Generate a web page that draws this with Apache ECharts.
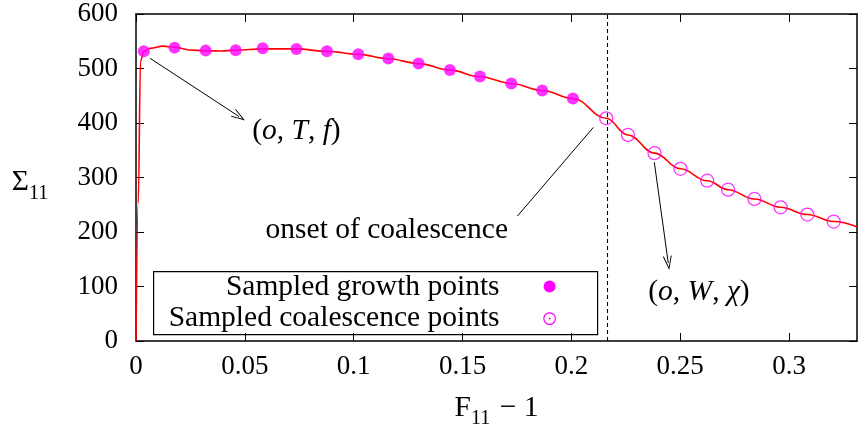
<!DOCTYPE html>
<html>
<head>
<meta charset="utf-8">
<script src="https://cdn.jsdelivr.net/npm/echarts@6/dist/echarts.min.js"></script>
<style>
  html, body { margin: 0; padding: 0; background: #ffffff; }
  #chart { width: 858px; height: 434px; }
</style>
</head>
<body>
<div id="chart"></div>
<script>
// Stress response Σ11 against stretch F11 − 1
const growthX = [0.0036, 0.0177, 0.0320, 0.0458, 0.0582, 0.0737, 0.0877, 0.1021, 0.1159, 0.1298, 0.1442, 0.1580, 0.1724, 0.1866, 0.2007];
const growthY = [531.5, 538.3, 532.8, 533.3, 537.0, 535.7, 531.5, 526.0, 518.2, 509.0, 497.3, 485.3, 472.5, 459.7, 445.1];

const coalX = [0.2160, 0.2260, 0.2382, 0.2501, 0.2624, 0.2720, 0.2841, 0.2961, 0.3084, 0.3205];
const coalY = [408.6, 378.1, 344.7, 316.0, 294.1, 277.6, 260.6, 245.3, 232.0, 219.2];

const curveX = [0, 0.0010, 0.0021, 0.0036, 0.0065, 0.0124, 0.0177, 0.0246, 0.0320, 0.0390, 0.0458, 0.0582, 0.0737, 0.0877, 0.1021, 0.1159, 0.1298, 0.1442, 0.1580, 0.1724, 0.1866, 0.2007, 0.2160, 0.2260, 0.2382, 0.2501, 0.2624, 0.2720, 0.2841, 0.2961, 0.3084, 0.3205, 0.3312];
const curveY = [0, 252, 515, 531, 537, 541, 539, 534, 532.5, 532, 533.5, 536, 536, 531.5, 526, 518, 509, 497, 485, 472.5, 459.7, 445, 408.6, 378, 344.7, 316, 294, 277.6, 260.6, 245.3, 232, 219.2, 209.5];

const xTicks = [0, 0.05, 0.1, 0.15, 0.2, 0.25, 0.3];
const yTicks = [0, 100, 200, 300, 400, 500, 600];
const xMax = 0.3312;
const onsetX = 0.2163;

const seriesNames = ['Sampled growth points', 'Sampled coalescence points'];

const FONT = 'Liberation Serif';
const MAGENTA = '#ff00ff';
const TEXT_SIZE = 29.5;

function pairs(xs, ys) { return xs.map((x, i) => [x, ys[i]]); }

// open "V" arrow head, tip pointing up
const headPath = 'path://M0,14 L4.5,0 L9,14 L8,14 L4.5,3 L1,14 Z';

const mathRich = {
  n: { fontFamily: FONT, fontSize: TEXT_SIZE, color: '#000' },
  i: { fontFamily: FONT, fontSize: TEXT_SIZE, fontStyle: 'italic', color: '#000' }
};

const chart = echarts.init(document.getElementById('chart'), null, { renderer: 'canvas' });

const axisLineStyle = { color: '#000', width: 1.5 };
const tickStyle = { show: true, inside: true, length: 8, lineStyle: { color: '#000', width: 1 } };

chart.setOption({
  animation: false,
  backgroundColor: '#ffffff',
  grid: { left: 136, right: 1, top: 14, bottom: 92, containLabel: false },
  xAxis: [
    {
      type: 'value', min: 0, max: xMax, position: 'bottom',
      axisLine: { show: true, onZero: false, lineStyle: axisLineStyle },
      axisTick: Object.assign({ customValues: xTicks }, tickStyle),
      axisLabel: {
        customValues: xTicks, margin: 12,
        fontFamily: FONT, fontSize: 27, color: '#000',
        formatter: v => String(+v.toFixed(2))
      },
      splitLine: { show: false },
      name: '{a|F}{s|11}{a| − 1}',
      nameLocation: 'middle', nameGap: 70,
      nameTextStyle: {
        align: 'center', verticalAlign: 'middle',
        rich: {
          a: { fontFamily: FONT, fontSize: TEXT_SIZE, color: '#000', verticalAlign: 'bottom', padding: [0, 0, 6, 0] },
          s: { fontFamily: FONT, fontSize: 20, color: '#000', verticalAlign: 'bottom', padding: [0, 2, 0, 0] }
        }
      }
    },
    {
      type: 'value', min: 0, max: xMax, position: 'top',
      axisLine: { show: true, onZero: false, lineStyle: axisLineStyle },
      axisTick: Object.assign({ customValues: xTicks }, tickStyle),
      axisLabel: { show: false },
      splitLine: { show: false }
    }
  ],
  yAxis: [
    {
      type: 'value', min: 0, max: 600, interval: 100, position: 'left',
      axisLine: { show: true, onZero: false, lineStyle: axisLineStyle },
      axisTick: Object.assign({ customValues: yTicks }, tickStyle),
      axisLabel: { customValues: yTicks, margin: 18, fontFamily: FONT, fontSize: 27, color: '#000' },
      splitLine: { show: false },
      name: '{a|Σ}{s|11}',
      nameLocation: 'middle', nameRotate: 0, nameGap: 106,
      nameTextStyle: {
        align: 'center', verticalAlign: 'middle', padding: [16, 0, 0, 0],
        rich: {
          a: { fontFamily: FONT, fontSize: TEXT_SIZE, color: '#000', verticalAlign: 'bottom', padding: [0, 0, 6, 0] },
          s: { fontFamily: FONT, fontSize: 20, color: '#000', verticalAlign: 'bottom' }
        }
      }
    },
    {
      type: 'value', min: 0, max: 600, interval: 100, position: 'right',
      axisLine: { show: true, onZero: false, lineStyle: axisLineStyle },
      axisTick: Object.assign({ customValues: yTicks }, tickStyle),
      axisLabel: { show: false },
      splitLine: { show: false }
    }
  ],
  series: [
    {
      name: 'Σ11 response',
      type: 'line',
      data: pairs(curveX, curveY),
      showSymbol: false,
      smooth: 0.4,
      smoothMonotone: 'x',
      lineStyle: { color: '#ff0000', width: 1.6 },
      z: 2,
      markLine: {
        silent: true,
        symbol: ['none', 'none'],
        label: { show: false },
        lineStyle: { color: '#000', width: 1, type: 'solid' },
        data: [
          [{ coord: [onsetX, 0], lineStyle: { color: '#000', width: 1.1, type: [4, 3] } }, { coord: [onsetX, 600] }],
          [{ coord: [0.0064, 518.9] }, { coord: [0.0474, 411.7], symbol: headPath, symbolSize: [9, 14] }],
          [{ coord: [0.1752, 229.2] }, { coord: [0.2101, 392.0] }],
          [{ coord: [0.2381, 327.9] }, { coord: [0.2445, 143.0], symbol: headPath, symbolSize: [9, 14] }]
        ]
      },
      markPoint: {
        silent: true,
        symbol: 'circle',
        symbolSize: 1,
        itemStyle: { color: 'rgba(0,0,0,0)' },
        label: { show: true, position: 'inside', color: '#000', rich: mathRich },
        data: [
          { coord: [0.0737, 384], label: { formatter: '{n|(}{i|o}{n|, }{i|T}{n|, }{i|f}{n|)}' } },
          { coord: [0.1152, 203], label: { formatter: '{n|onset of coalescence}' } },
          { coord: [0.2586, 89.6], label: { formatter: '{n|(}{i|o}{n|, }{i|W}{n|, }{i|χ}{n|)}' } }
        ]
      }
    },
    {
      name: seriesNames[0],
      type: 'scatter',
      data: pairs(growthX, growthY),
      symbol: 'circle',
      symbolSize: 12,
      itemStyle: { color: MAGENTA },
      z: 3
    },
    {
      name: seriesNames[1],
      type: 'scatter',
      data: pairs(coalX, coalY),
      symbol: 'circle',
      symbolSize: 13,
      itemStyle: { color: 'rgba(0,0,0,0)', borderColor: MAGENTA, borderWidth: 1.3 },
      z: 3
    }
  ],
  graphic: [
    {
      type: 'group', left: 153, top: 271, z: 10,
      children: [
        { type: 'rect', shape: { x: 0, y: 0, width: 444, height: 63 },
          style: { fill: '#fff', stroke: '#000', lineWidth: 1.2 } },
        { type: 'text', x: 346, y: 16,
          style: { text: seriesNames[0], font: TEXT_SIZE + 'px "' + FONT + '"', fill: '#000', align: 'right', verticalAlign: 'middle' } },
        { type: 'text', x: 346, y: 47,
          style: { text: seriesNames[1], font: TEXT_SIZE + 'px "' + FONT + '"', fill: '#000', align: 'right', verticalAlign: 'middle' } },
        { type: 'circle', shape: { cx: 396, cy: 15, r: 6 }, style: { fill: MAGENTA } },
        { type: 'circle', shape: { cx: 396, cy: 47, r: 5.8 }, style: { fill: 'none', stroke: MAGENTA, lineWidth: 1.2 } },
        { type: 'circle', shape: { cx: 396, cy: 47, r: 1 }, style: { fill: MAGENTA } }
      ]
    }
  ]
});
</script>
</body>
</html>
